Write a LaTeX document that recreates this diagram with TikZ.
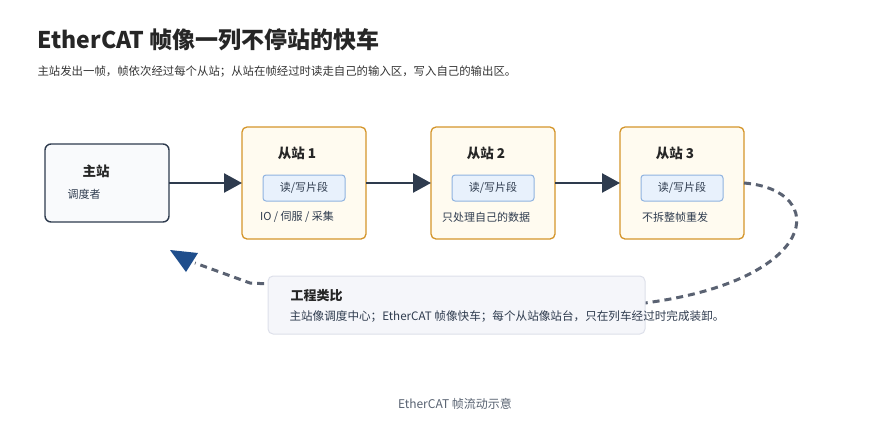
\documentclass[tikz,border=0pt]{standalone}
\usepackage{fontspec}
\setmainfont{Noto Sans CJK SC}
\usetikzlibrary{arrows.meta}
\definecolor{ink}{HTML}{2E3B4E}
\definecolor{slavefill}{HTML}{FFFBF0}
\definecolor{slavedraw}{HTML}{D4952A}
\definecolor{segfill}{HTML}{E8F1FC}
\definecolor{segdraw}{HTML}{8FB3E0}
\definecolor{anfill}{HTML}{F5F6FA}
\definecolor{andraw}{HTML}{DDE0EA}
\definecolor{retc}{HTML}{5A6272}
\definecolor{headc}{HTML}{1F4E8C}
\tikzset{
 slavebox/.style={draw=slavedraw,fill=slavefill,line width=1.3pt,rounded corners=5pt},
 segbox/.style={draw=segdraw,fill=segfill,line width=1pt,rounded corners=3pt,minimum width=82pt,minimum height=26pt,font=\fontsize{11}{13}\selectfont,text=ink},
 ttl/.style={font=\fontsize{13.5}{15}\selectfont\bfseries,text=black!85},
 sub/.style={font=\fontsize{11}{13}\selectfont,text=ink},
 flow/.style={draw=ink,line width=2.5pt,-{Triangle[length=18pt,width=19pt]}},
}
\begin{document}
\begin{tikzpicture}[x=1pt,y=-1pt]
\useasboundingbox (0,0) rectangle (894,432);
\node[anchor=west,font=\fontsize{23}{27}\selectfont\bfseries,text=black!85] (title) at (34,40) {EtherCAT 帧像一列不停站的快车};
\node[anchor=west,font=\fontsize{11.4}{13}\selectfont,text=black!80] (subt) at (34,72) {主站发出一帧，帧依次经过每个从站；从站在帧经过时读走自己的输入区，写入自己的输出区。};
% master
\draw[draw=ink,fill=anfill!60!white,line width=1.4pt,rounded corners=6pt] (45,144) rectangle (169,222);
\coordinate (m) at (169,183);
\node[ttl] (mt) at (96,171) {主站};
\node[sub] (ms) at (84,194) {调度者};
% slaves
\foreach \i/\x/\d in {1/242/{IO / 伺服 / 采集},2/431/{只处理自己的数据},3/620/{不拆整帧重发}}{
 \draw[slavebox] (\x,127) rectangle (\x+124,239);
 \coordinate (l\i) at (\x,183);
 \coordinate (r\i) at (\x+124,183);
 \node[ttl] (t\i) at (\x+55,153) {从站 \i};
 \node[segbox] (s\i) at (\x+62,188) {读/写片段};
 \node[sub] (d\i) at (\x+55,217) {\d};
}
\draw[flow] (m) -- (l1);
\draw[flow] (r1) -- (l2);
\draw[flow] (r2) -- (l3);
% return path
\coordinate (rs) at (744,183);
\draw[draw=retc,line width=3pt,dash pattern=on 7pt off 5pt]
 (rs) .. controls (830,190) and (820,280) .. (645,303) -- (250,283) -- (195,263);
\fill[headc] (170,250) -- (198,253) -- (186,272) -- cycle;
% analogy
\draw[draw=andraw,fill=anfill,line width=1pt,rounded corners=5pt] (268,276) rectangle (645,334);
\node[anchor=west,font=\fontsize{13}{15}\selectfont\bfseries,text=black!85] (at) at (287,296) {工程类比};
\node[anchor=west,font=\fontsize{11.6}{13}\selectfont,text=ink] (ad) at (286,317) {主站像调度中心；EtherCAT 帧像快车；每个从站像站台，只在列车经过时完成装卸。};
\node[font=\fontsize{12}{14}\selectfont,text=ink!80] (cap) at (455,404) {EtherCAT 帧流动示意};
\end{tikzpicture}
\end{document}
